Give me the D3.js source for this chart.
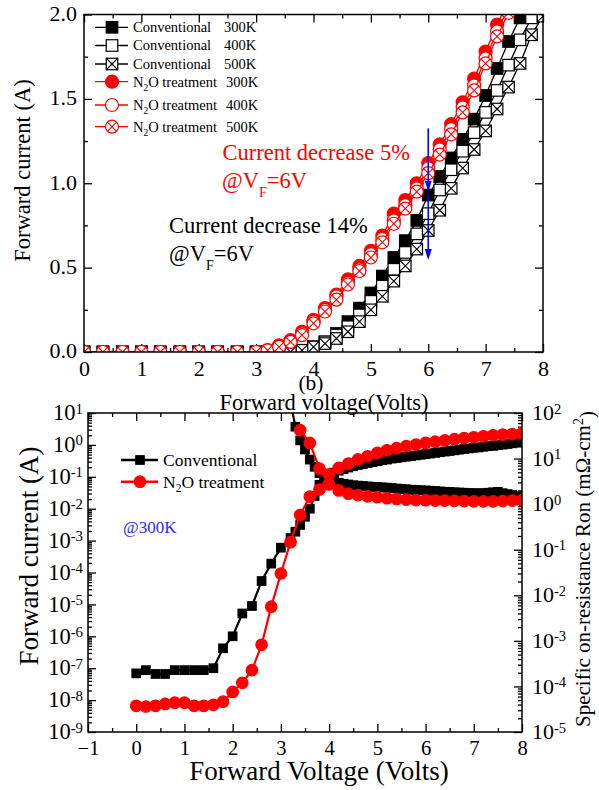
<!DOCTYPE html>
<html>
<head>
<meta charset="utf-8">
<script src="https://cdn.jsdelivr.net/npm/d3@7"></script>
<style>
  body { margin: 0; background: #fff; }
  text { font-family: "Liberation Serif", "Times New Roman", serif; }
</style>
</head>
<body>
<svg id="chart" width="599" height="790"></svg>
<script>
// ---------- panel (a): forward current vs voltage at 300/400/500 K ----------
const voltA = [0, 0.33, 0.67, 1, 1.33, 1.67, 2, 2.33, 2.67, 3,
  3.2, 3.4, 3.6, 3.8, 4, 4.2, 4.4, 4.6, 4.8, 5, 5.2, 5.4, 5.6, 5.8, 6,
  6.2, 6.4, 6.6, 6.8, 7, 7.2, 7.4, 7.6, 7.8, 8];
const conv300 = [0, 0, 0, 0, 0, 0, 0, 0, 0, 0,
  0, 0, 0, 0.01, 0.03, 0.06, 0.11, 0.18, 0.26, 0.35, 0.45, 0.56, 0.66, 0.78, 0.93,
  1.04, 1.15, 1.26, 1.38, 1.52, 1.68, 1.84, 1.98, 2.12, 2.25];
const conv400 = [0, 0, 0, 0, 0, 0, 0, 0, 0, 0,
  0, 0, 0, 0.01, 0.03, 0.06, 0.10, 0.15, 0.22, 0.30, 0.39, 0.49, 0.59, 0.70, 0.82,
  0.96, 1.08, 1.19, 1.30, 1.42, 1.55, 1.70, 1.85, 1.98, 2.10];
const conv500 = [0, 0, 0, 0, 0, 0, 0, 0, 0, 0,
  0, 0, 0, 0.01, 0.03, 0.05, 0.08, 0.12, 0.18, 0.25, 0.33, 0.42, 0.51, 0.61, 0.72,
  0.84, 0.97, 1.09, 1.20, 1.31, 1.44, 1.57, 1.71, 1.88, 1.99];
const n2o300 = [0, 0, 0, 0, 0, 0, 0, 0, 0, 0,
  0.01, 0.04, 0.07, 0.12, 0.19, 0.26, 0.34, 0.43, 0.51, 0.60, 0.69, 0.82, 0.90, 1.00, 1.12,
  1.23, 1.35, 1.48, 1.62, 1.78, 1.94, 2.08, 2.20, 2.30, 2.40];
const n2o400 = [0, 0, 0, 0, 0, 0, 0, 0, 0, 0,
  0.01, 0.03, 0.06, 0.11, 0.18, 0.25, 0.33, 0.41, 0.49, 0.58, 0.67, 0.78, 0.87, 0.97, 1.09,
  1.20, 1.32, 1.45, 1.58, 1.74, 1.90, 2.04, 2.15, 2.25, 2.35];
const n2o500 = [0, 0, 0, 0, 0, 0, 0, 0, 0, 0,
  0.01, 0.03, 0.06, 0.10, 0.17, 0.24, 0.31, 0.40, 0.48, 0.56, 0.65, 0.76, 0.85, 0.95, 1.06,
  1.17, 1.29, 1.42, 1.55, 1.71, 1.87, 2.01, 2.12, 2.22, 2.32];
const xTicksA = [0, 1, 2, 3, 4, 5, 6, 7, 8];
const yTicksA = [0, 0.5, 1.0, 1.5, 2.0];
// blue arrows at VF = 6 V (current values in A)
const arrowsA = [[6, 1.325, 0.95], [6, 0.93, 0.545]];

// ---------- panel (b): 300 K current and specific on-resistance ----------
const voltConv = [0, 0.2, 0.4, 0.6, 0.8, 1, 1.2, 1.4, 1.6, 1.8, 2, 2.2, 2.4, 2.6, 2.8, 3, 3.2,
  3.3, 3.4, 3.5, 3.6, 3.7, 3.8, 3.9, 4, 4.1, 4.2, 4.3, 4.4, 4.5, 4.6, 4.7, 4.8, 4.9, 5,
  5.1, 5.2, 5.3, 5.4, 5.5, 5.6, 5.7, 5.8, 5.9, 6, 6.1, 6.2, 6.3, 6.4, 6.5, 6.6, 6.7, 6.8,
  6.9, 7, 7.1, 7.2, 7.3, 7.4, 7.5, 7.6, 7.7, 7.8, 7.9, 8];
const currConv = [6.9e-8, 8.7e-8, 6.6e-8, 6.6e-8, 8.7e-8, 8.7e-8, 8.7e-8, 8.7e-8, 1.0e-7,
  4.2e-7, 1.0e-6, 5.2e-6, 8.9e-6, 5.4e-5, 1.9e-4, 6.0e-4, 1.2e-3,
  1.9e-3, 3.1e-3, 5.6e-3, 1.0e-2, 2.5e-2, 5.6e-2, 8.9e-2, 0.11, 0.135, 0.155, 0.174, 0.195,
  0.214, 0.234, 0.251, 0.269, 0.288, 0.309, 0.331, 0.347, 0.372, 0.389, 0.407, 0.427, 0.447,
  0.468, 0.490, 0.513, 0.537, 0.562, 0.589, 0.617, 0.646, 0.676, 0.708, 0.741, 0.776, 0.813,
  0.832, 0.871, 0.912, 0.933, 0.977, 1.02, 1.07, 1.12, 1.17, 1.23];
const ronConv = [null, null, null, null, null, null, null, null, null, null, null, null,
  null, null, null, null, 180,
  50, 25, 15.8, 9.5, 6.6, 4.8, 4.0, 3.5, 3.2, 2.95, 2.8, 2.7, 2.6, 2.55, 2.5, 2.45, 2.4, 2.38,
  2.34, 2.3, 2.25, 2.2, 2.16, 2.12, 2.08, 2.05, 2.02, 2.0, 1.97, 1.94, 1.9, 1.87, 1.85, 1.82,
  1.8, 1.78, 1.76, 1.74, 1.73, 1.74, 1.78, 1.82, 1.86, 1.74, 1.66, 1.58, 1.5, 1.45];
const voltN2O = [0, 0.2, 0.4, 0.6, 0.8, 1, 1.2, 1.4, 1.6, 1.8, 2, 2.2, 2.4, 2.6, 2.8, 3,
  3.2, 3.4, 3.6, 3.8, 4, 4.2, 4.4, 4.6, 4.8, 5, 5.2, 5.4, 5.6, 5.8, 6, 6.2, 6.4, 6.6, 6.8,
  7, 7.2, 7.4, 7.6, 7.8, 8];
const currN2O = [6.6e-9, 6.3e-9, 6.6e-9, 7.6e-9, 8.3e-9, 8.3e-9, 6.6e-9, 6.6e-9, 7.1e-9,
  8.9e-9, 1.8e-8, 3.5e-8, 8.7e-8, 5.4e-7, 8.5e-6, 9.3e-5, 8.9e-4, 6.3e-3, 2.4e-2, 4.0e-2,
  0.12, 0.19, 0.26, 0.35, 0.44, 0.56, 0.68, 0.79, 0.91, 1.02, 1.15, 1.26, 1.38, 1.51, 1.62,
  1.74, 1.86, 2.0, 2.09, 2.19, 2.29];
const ronN2O = [null, null, null, null, null, null, null, null, null, null, null, null,
  null, null, null, null, null, 42, 22, 6.0, 2.7, 2.0, 1.7, 1.58, 1.48, 1.42, 1.35, 1.3, 1.26,
  1.23, 1.22, 1.2, 1.2, 1.18, 1.17, 1.15, 1.15, 1.15, 1.17, 1.2, 1.23];
const xTicksB = [-1, 0, 1, 2, 3, 4, 5, 6, 7, 8];

const svg = d3.select("#chart");

// draws one marker centred on (0,0) of g
function marker(g, kind, s, color) {
  const h = s / 2;
  if (kind[0] === "s") {
    g.append("rect").attr("x", -h).attr("y", -h).attr("width", s).attr("height", s)
      .attr("fill", kind === "sf" ? color : "#fff").attr("stroke", color).attr("stroke-width", 1.2);
  } else {
    g.append("circle").attr("r", h).attr("fill", kind === "cf" ? color : "#fff")
      .attr("stroke", color).attr("stroke-width", 1.2);
  }
  if (kind[1] === "x") {
    const k = kind[0] === "s" ? h : h * 0.707;
    g.append("path").attr("d", `M${-k},${-k}L${k},${k}M${-k},${k}L${k},${-k}`)
      .attr("stroke", color).attr("stroke-width", 1.1);
  }
}

function drawSeries(layer, xs, ys, x, y, color, kind, size, lw) {
  const pts = xs.map((v, i) => [v, ys[i]]).filter(p => p[1] != null);
  layer.append("path").datum(pts)
    .attr("fill", "none").attr("stroke", color).attr("stroke-width", lw)
    .attr("d", d3.line().x(p => x(p[0])).y(p => y(p[1])));
  layer.selectAll(null).data(pts).join("g")
    .attr("transform", p => `translate(${x(p[0])},${y(p[1])})`)
    .each(function () { marker(d3.select(this), kind, size, color); });
}

function styleAxis(g, size) {
  g.attr("font-family", null).attr("font-size", size);
  g.select(".domain").remove();
  g.selectAll(".tick line").attr("stroke-width", 1.3);
  g.selectAll(".tick text").attr("fill", "#000");
}

// ten-to-the-power labels
function powLabels(g) {
  g.selectAll(".tick text").each(function (d) {
    const t = d3.select(this).text(null);
    t.append("tspan").text("10");
    t.append("tspan").attr("dy", "-0.45em").attr("font-size", "0.66em")
      .text(Math.round(Math.log10(d)));
  });
}

// =================== panel (a) ===================
const xA = d3.scaleLinear().domain([0, 8]).range([84, 543]);
const yA = d3.scaleLinear().domain([0, 2]).range([352, 14.5]);

svg.append("clipPath").attr("id", "clipA").append("rect")
  .attr("x", 84).attr("y", 14.5).attr("width", 459).attr("height", 337.5);

const minorXA = d3.range(0.5, 8, 1);
const minorYA = [0.25, 0.75, 1.25, 1.75];

styleAxis(svg.append("g").attr("transform", `translate(0,${yA(0)})`)
  .call(d3.axisBottom(xA).tickValues(xTicksA).tickFormat(d3.format("d"))
    .tickSize(-8).tickSizeOuter(0).tickPadding(8)), 22);
styleAxis(svg.append("g").attr("transform", `translate(0,${yA(0)})`)
  .call(d3.axisBottom(xA).tickValues(minorXA).tickFormat("").tickSize(-4).tickSizeOuter(0)), 22);
styleAxis(svg.append("g").attr("transform", `translate(0,${yA(2)})`)
  .call(d3.axisTop(xA).tickValues(xTicksA).tickFormat("").tickSize(-8).tickSizeOuter(0)), 22);
styleAxis(svg.append("g").attr("transform", `translate(0,${yA(2)})`)
  .call(d3.axisTop(xA).tickValues(minorXA).tickFormat("").tickSize(-4).tickSizeOuter(0)), 22);
const yAxA = svg.append("g").attr("transform", `translate(${xA(0)},0)`)
  .call(d3.axisLeft(yA).tickValues(yTicksA).tickFormat(d3.format(".1f"))
    .tickSize(-8).tickSizeOuter(0).tickPadding(7));
styleAxis(yAxA, 22);
yAxA.selectAll(".tick text").attr("dy", "0.27em");
styleAxis(svg.append("g").attr("transform", `translate(${xA(0)},0)`)
  .call(d3.axisLeft(yA).tickValues(minorYA).tickFormat("").tickSize(-4).tickSizeOuter(0)), 22);
styleAxis(svg.append("g").attr("transform", `translate(${xA(8)},0)`)
  .call(d3.axisRight(yA).tickValues(yTicksA).tickFormat("").tickSize(-8).tickSizeOuter(0)), 22);
styleAxis(svg.append("g").attr("transform", `translate(${xA(8)},0)`)
  .call(d3.axisRight(yA).tickValues(minorYA).tickFormat("").tickSize(-4).tickSizeOuter(0)), 22);

const plotA = svg.append("g").attr("clip-path", "url(#clipA)");
drawSeries(plotA, voltA, conv300, xA, yA, "#000", "sf", 11.5, 1.3);
drawSeries(plotA, voltA, conv400, xA, yA, "#000", "so", 11.5, 1.3);
drawSeries(plotA, voltA, conv500, xA, yA, "#000", "sx", 11.5, 1.3);
drawSeries(plotA, voltA, n2o300, xA, yA, "#f00", "cf", 13, 1.3);
drawSeries(plotA, voltA, n2o400, xA, yA, "#f00", "co", 13, 1.3);
drawSeries(plotA, voltA, n2o500, xA, yA, "#f00", "cx", 13, 1.3);

svg.append("rect").attr("x", 84).attr("y", 14.5).attr("width", 459).attr("height", 337.5)
  .attr("fill", "none").attr("stroke", "#000").attr("stroke-width", 1.5);

// blue arrows
arrowsA.forEach(([v, a, b]) => {
  const x = xA(v), y0 = yA(a), y1 = yA(b);
  svg.append("line").attr("x1", x).attr("x2", x).attr("y1", y0).attr("y2", y1 - 8)
    .attr("stroke", "#0000ff").attr("stroke-width", 1.6);
  svg.append("path").attr("d", `M${x - 3.5},${y1 - 11}L${x + 3.5},${y1 - 11}L${x},${y1}Z`)
    .attr("fill", "#0000ff");
});

// legend (a)
const legendA = [
  ["Conventional", "300K", "sf", "#000"],
  ["Conventional", "400K", "so", "#000"],
  ["Conventional", "500K", "sx", "#000"],
  ["N2O treatment", "300K", "cf", "#f00"],
  ["N2O treatment", "400K", "co", "#f00"],
  ["N2O treatment", "500K", "cx", "#f00"]
];
const legendRowY = [27.3, 45.5, 64, 81.7, 105, 126.7];
legendA.forEach(([name, temp, kind, color], i) => {
  const y = legendRowY[i];
  const g = svg.append("g");
  g.append("line").attr("x1", 95).attr("x2", 128).attr("y1", y).attr("y2", y)
    .attr("stroke", color).attr("stroke-width", 1.3);
  marker(g.append("g").attr("transform", `translate(112,${y})`), kind, kind[0] === "s" ? 11.5 : 13, color);
  const t = g.append("text").attr("x", 133).attr("y", y + 4.8).attr("font-size", 14.5);
  if (name.startsWith("N2O")) {
    t.append("tspan").text("N");
    t.append("tspan").attr("dy", 4).attr("font-size", 9.5).text("2");
    t.append("tspan").attr("dy", -4).text("O treatment");
  } else {
    t.text(name);
  }
  g.append("text").attr("x", name.startsWith("N2O") ? 226 : 224).attr("y", y + 4.8)
    .attr("font-size", 14.5).text(temp);
});

// annotations (a)
function vfNote(x, y, color) {
  const t = svg.append("text").attr("x", x).attr("y", y).attr("font-size", 22.5).attr("fill", color);
  t.append("tspan").text("@V");
  t.append("tspan").attr("dy", 9).attr("font-size", 14).text("F");
  t.append("tspan").attr("dy", -9).text("=6V");
}
svg.append("text").attr("x", 222.5).attr("y", 160).attr("font-size", 22.5).attr("fill", "#f00")
  .text("Current decrease 5%");
vfNote(222, 187.5, "#f00");
svg.append("text").attr("x", 169).attr("y", 233).attr("font-size", 22.5).attr("fill", "#000")
  .text("Current decrease 14%");
vfNote(169, 261, "#000");

// axis titles (a)
svg.append("text").attr("transform", "translate(30,170.5) rotate(-90)")
  .attr("text-anchor", "middle").attr("font-size", 22.5).text("Forward current (A)");
svg.append("text").attr("x", 311).attr("y", 390).attr("text-anchor", "middle")
  .attr("font-size", 21.5).text("(b)");
svg.append("text").attr("x", 324).attr("y", 410).attr("text-anchor", "middle")
  .attr("font-size", 22.5).text("Forward voltage(Volts)");

// =================== panel (b) ===================
const xB = d3.scaleLinear().domain([-1, 8]).range([88, 522]);
const yB = d3.scaleLog().domain([1e-9, 1e1]).range([732, 413]);
const rB = d3.scaleLog().domain([1e-5, 1e2]).range([732, 413]);

svg.append("clipPath").attr("id", "clipB").append("rect")
  .attr("x", 88).attr("y", 413).attr("width", 434).attr("height", 319);

const minorXB = d3.range(-0.5, 8, 1);
const majorYB = d3.range(-9, 2).map(e => Math.pow(10, e));
const minorYB = d3.range(-9, 1).flatMap(e => d3.range(2, 10).map(k => k * Math.pow(10, e)));
const majorRB = d3.range(-5, 3).map(e => Math.pow(10, e));
const minorRB = d3.range(-5, 2).flatMap(e => d3.range(2, 10).map(k => k * Math.pow(10, e)));

styleAxis(svg.append("g").attr("transform", "translate(0,732)")
  .call(d3.axisBottom(xB).tickValues(xTicksB).tickFormat(d3.format("d"))
    .tickSize(-8).tickSizeOuter(0).tickPadding(8)), 20.5);
styleAxis(svg.append("g").attr("transform", "translate(0,732)")
  .call(d3.axisBottom(xB).tickValues(minorXB).tickFormat("").tickSize(-4).tickSizeOuter(0)), 21);
styleAxis(svg.append("g").attr("transform", "translate(0,413)")
  .call(d3.axisTop(xB).tickValues(xTicksB).tickFormat("").tickSize(-8).tickSizeOuter(0)), 21);
styleAxis(svg.append("g").attr("transform", "translate(0,413)")
  .call(d3.axisTop(xB).tickValues(minorXB).tickFormat("").tickSize(-4).tickSizeOuter(0)), 21);

const yAxB = svg.append("g").attr("transform", "translate(88,0)")
  .call(d3.axisLeft(yB).tickValues(majorYB).tickSize(-8).tickSizeOuter(0).tickPadding(5));
styleAxis(yAxB, 22.5);
powLabels(yAxB);
yAxB.selectAll(".tick text").attr("dy", "0.3em");
styleAxis(svg.append("g").attr("transform", "translate(88,0)")
  .call(d3.axisLeft(yB).tickValues(minorYB).tickFormat("").tickSize(-4).tickSizeOuter(0)), 22);

const rAxB = svg.append("g").attr("transform", "translate(522,0)")
  .call(d3.axisRight(rB).tickValues(majorRB).tickSize(-8).tickSizeOuter(0).tickPadding(10));
styleAxis(rAxB, 22);
powLabels(rAxB);
rAxB.selectAll(".tick text").attr("dy", "0.3em");
styleAxis(svg.append("g").attr("transform", "translate(522,0)")
  .call(d3.axisRight(rB).tickValues(minorRB).tickFormat("").tickSize(-4).tickSizeOuter(0)), 22);

const plotB = svg.append("g").attr("clip-path", "url(#clipB)");
drawSeries(plotB, voltConv, currConv, xB, yB, "#000", "sf", 8.5, 2.2);
drawSeries(plotB, voltConv, ronConv, xB, rB, "#000", "sf", 8.5, 2.2);
drawSeries(plotB, voltN2O, currN2O, xB, yB, "#f00", "cf", 11.5, 2.2);
drawSeries(plotB, voltN2O, ronN2O, xB, rB, "#f00", "cf", 11.5, 2.2);

svg.append("rect").attr("x", 88).attr("y", 413).attr("width", 434).attr("height", 319)
  .attr("fill", "none").attr("stroke", "#000").attr("stroke-width", 1.5);

// legend (b)
[["Conventional", "sf", "#000", 460], ["N2O treatment", "cf", "#f00", 481.7]]
  .forEach(([name, kind, color, y]) => {
    const g = svg.append("g");
    g.append("line").attr("x1", 121).attr("x2", 158).attr("y1", y).attr("y2", y)
      .attr("stroke", color).attr("stroke-width", 2.5);
    marker(g.append("g").attr("transform", `translate(140,${y})`), kind, kind === "sf" ? 8.5 : 11.5, color);
    const t = g.append("text").attr("x", 163).attr("y", y + 6).attr("font-size", 17.5);
    if (name.startsWith("N2O")) {
      t.append("tspan").text("N");
      t.append("tspan").attr("dy", 4.5).attr("font-size", 11.5).text("2");
      t.append("tspan").attr("dy", -4.5).text("O treatment");
    } else {
      t.text(name);
    }
  });
svg.append("text").attr("x", 123).attr("y", 533).attr("font-size", 17).attr("fill", "#2b2bff")
  .text("@300K");

// axis titles (b)
svg.append("text").attr("transform", "translate(38,556) rotate(-90)")
  .attr("text-anchor", "middle").attr("font-size", 27).text("Forward current (A)");
svg.append("text").attr("x", 319).attr("y", 780).attr("text-anchor", "middle")
  .attr("font-size", 27).text("Forward Voltage (Volts)");
const rt = svg.append("text").attr("transform", "translate(590,569) rotate(-90)")
  .attr("text-anchor", "middle").attr("font-size", 21);
rt.append("tspan").text("Specific on-resistance Ron (m\u03A9-cm");
rt.append("tspan").attr("dy", "-0.5em").attr("font-size", 14).text("2");
rt.append("tspan").attr("dy", "0.5em").text(")");
</script>
</body>
</html>
